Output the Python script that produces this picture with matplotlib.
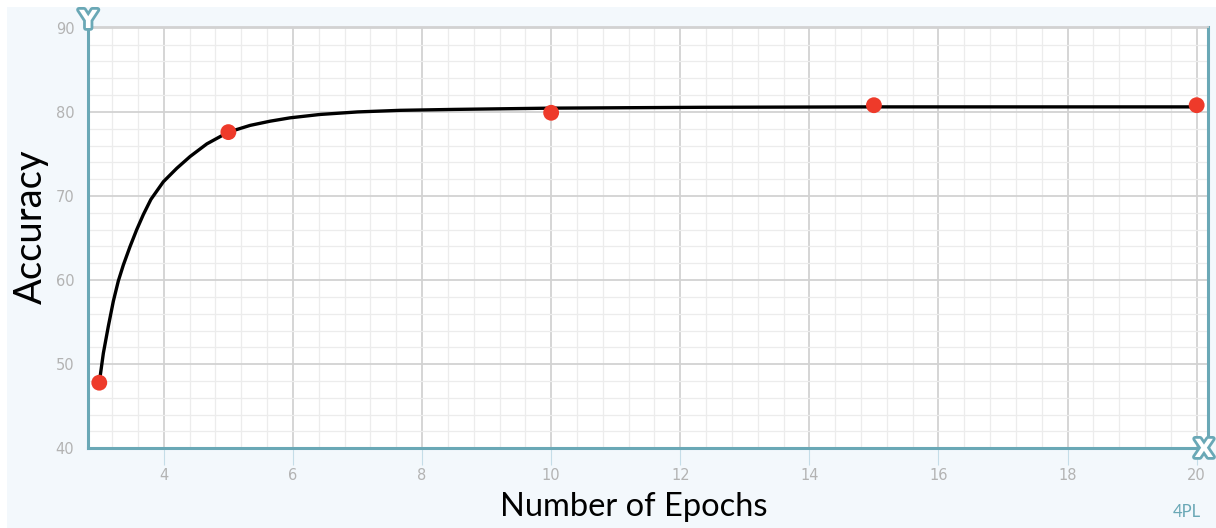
import matplotlib
matplotlib.use("Agg")
import matplotlib.pyplot as plt
import matplotlib.patheffects as pe
from matplotlib.patches import Rectangle
from matplotlib.ticker import MultipleLocator

# Data
epochs = [3, 5, 10, 15, 20]
accuracy = [47.8, 77.6, 79.9, 80.8, 80.8]

# Fitted 4PL curve
curve_x = [3.0, 3.063, 3.14, 3.218, 3.295, 3.373, 3.477, 3.58, 3.683, 3.8,
           3.993, 4.201, 4.407, 4.666, 5.0, 5.337, 5.647, 5.957, 6.42, 7.0,
           7.66, 8.5, 10.0, 12.31, 15.0, 20.0]
curve_y = [47.8, 51.3, 54.5, 57.5, 59.9, 61.8, 64.0, 66.0, 67.8, 69.6,
           71.7, 73.3, 74.7, 76.2, 77.6, 78.4, 78.9, 79.3, 79.7, 80.0,
           80.19, 80.3, 80.45, 80.55, 80.6, 80.6]

x_ticks = [4, 6, 8, 10, 12, 14, 16, 18, 20]
y_ticks = [40, 50, 60, 70, 80, 90]

W, H = 1216, 528
fig = plt.figure(figsize=(W / 100, H / 100), dpi=100)
fig.patch.set_facecolor("white")
fig.patches.append(Rectangle((7 / W, 0), 1, 1 - 7 / H, transform=fig.transFigure,
                             facecolor="#f3f8fc", edgecolor="none", zorder=-10))

ax = fig.add_axes([88.3 / W, 1 - 448.3 / H, (1208.3 - 88.3) / W, (448.3 - 27) / H])
ax.set_facecolor("white")
ax.set_xlim(2.83, 20.18)
ax.set_ylim(40, 90.1)

ax.xaxis.set_minor_locator(MultipleLocator(0.4))
ax.yaxis.set_minor_locator(MultipleLocator(2))
ax.set_xticks(x_ticks)
ax.set_yticks(y_ticks)
ax.set_xticklabels([str(t) for t in x_ticks])
ax.set_yticklabels([str(t) for t in y_ticks])

ax.grid(which="major", color="#d2d2d2", linewidth=1.3, zorder=0)
ax.grid(which="minor", color="#ececec", linewidth=0.9, zorder=0)
ax.set_axisbelow(True)

teal = "#6aa8b6"
for s in ["left", "bottom", "right"]:
    ax.spines[s].set_color(teal)
    ax.spines[s].set_linewidth(2.2)
ax.spines["top"].set_color("#d2d2d2")
ax.spines["top"].set_linewidth(1.3)

ax.tick_params(axis="x", which="major", length=12, width=0.8, color="#c5dde8",
               labelcolor="#b3b3b3", labelsize=10.5, pad=2)
ax.tick_params(axis="y", which="major", length=0, labelcolor="#b3b3b3",
               labelsize=10.5, pad=10)
ax.tick_params(which="minor", length=0)

ax.plot(curve_x, curve_y, color="black", linewidth=2.4, zorder=3,
        solid_capstyle="round", solid_joinstyle="round")
ax.scatter(epochs, accuracy, s=130, color="#ee3a2a", zorder=4, edgecolors="none",
           clip_on=False)

ax.set_xlabel("Number of Epochs", fontsize=23.5, family="Lato", color="black")
ax.xaxis.set_label_coords(0.487, -0.139, transform=ax.transAxes)
ax.xaxis.label.set_va("center")
ax.set_ylabel("Accuracy", fontsize=27.5, family="Lato", color="black")
ax.yaxis.set_label_coords(-0.051, 0.525, transform=ax.transAxes)
ax.yaxis.label.set_va("center")

icon_fx = [pe.Stroke(linewidth=4, foreground=teal), pe.Normal()]
fig.text(88.3 / W, 1 - 21 / H, "Y", ha="center", va="center", fontsize=18,
         fontweight="bold", color="white", path_effects=icon_fx)
fig.text(1204 / W, 1 - 450 / H, "X", ha="center", va="center", fontsize=18,
         fontweight="bold", color="white", path_effects=icon_fx)
fig.text(1187 / W, 1 - 512 / H, "4PL", ha="center", va="center", fontsize=12,
         color=teal, family="Lato")

fig.savefig("out.png", dpi=100, facecolor=fig.get_facecolor())
